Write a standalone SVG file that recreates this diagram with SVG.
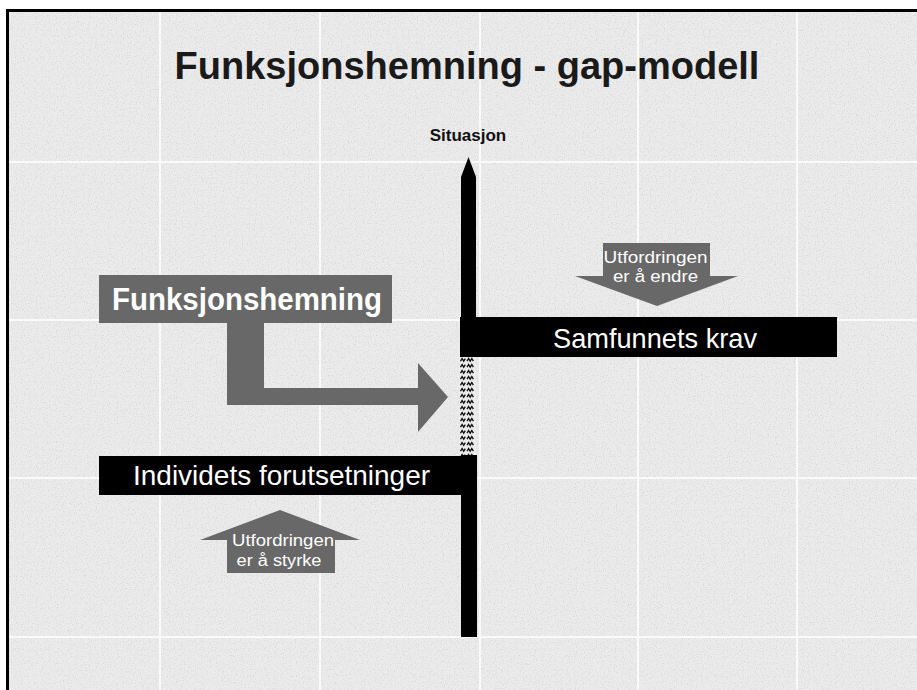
<svg xmlns="http://www.w3.org/2000/svg" width="917" height="690" viewBox="0 0 917 690">
  <defs>
    <filter id="noise" x="0" y="0" width="100%" height="100%">
      <feTurbulence type="fractalNoise" baseFrequency="0.85" numOctaves="2" seed="3" result="t"/>
      <feColorMatrix type="matrix" values="0 0 0 0 0.5  0 0 0 0 0.5  0 0 0 0 0.5  -1.2 0 0 0 0.6" in="t"/>
    </filter>
    <pattern id="gap" x="460" y="357" width="16" height="6" patternUnits="userSpaceOnUse">
      <rect width="16" height="6" fill="#ececec"/>
      <path d="M0.5,4.2 l1.6,-2.6 l1.6,2.6 l1.6,-2.6 M7,4.2 l1.6,-2.6 l1.6,2.6 l1.6,-2.6 l1.6,2.6" stroke="#111" stroke-width="1.3" fill="none"/>
    </pattern>
    <style>
      .sans { font-family: "Liberation Sans", Arial, "DejaVu Sans", sans-serif; }
      .title { font-size: 38px; font-weight: bold; fill: #1a1a1a; }
      .lbl { font-size: 17px; font-weight: bold; fill: #111; }
      .bar { fill: #000; }
      .bartext { font-size: 28px; fill: #fff; }
      .grey { fill: #686868; }
      .small { font-size: 16px; fill: #fff; }
      .grid { stroke: #fcfcfc; stroke-width: 2; opacity: 0.9; }
    </style>
  </defs>

  <!-- background -->
  <rect x="0" y="0" width="917" height="690" fill="#ffffff"/>
  <rect x="6" y="9" width="911" height="681" fill="#ebebeb"/>
  <rect x="6" y="9" width="911" height="681" filter="url(#noise)"/>
  <g id="grid">
    <line class="grid" x1="160" y1="12" x2="160" y2="690"/>
    <line class="grid" x1="320" y1="12" x2="320" y2="690"/>
    <line class="grid" x1="480" y1="12" x2="480" y2="690"/>
    <line class="grid" x1="638" y1="12" x2="638" y2="690"/>
    <line class="grid" x1="797" y1="12" x2="797" y2="690"/>
    <line class="grid" x1="9" y1="162" x2="917" y2="162"/>
    <line class="grid" x1="9" y1="320" x2="917" y2="320"/>
    <line class="grid" x1="9" y1="478" x2="917" y2="478"/>
    <line class="grid" x1="9" y1="637" x2="917" y2="637"/>
  </g>
  <g id="frame">
    <rect x="6" y="9" width="911" height="3" fill="#000"/>
    <rect x="6" y="9" width="3" height="681" fill="#000"/>
  </g>

  <g id="title">
    <text class="sans title" x="467" y="79" text-anchor="middle">Funksjonshemning - gap-modell</text>
  </g>

  <g id="situasjon">
    <text class="sans lbl" x="468" y="141" text-anchor="middle">Situasjon</text>
  </g>

  <g id="connectors">
    <path id="axis-upper" class="bar" d="M461,318 V177 L468.5,157 L476,177 V318 Z"/>
    <rect id="gap-zone" x="460" y="357" width="16" height="99" fill="url(#gap)"/>
    <rect id="axis-lower" class="bar" x="461" y="455" width="16" height="182"/>
    <path id="elbow-arrow" class="grey" d="M227,322 H264 V388 H418 V363 L448,397 L418,432 V405 H227 Z"/>
  </g>

  <g id="samfunnets-krav">
    <rect class="bar" x="460" y="317" width="377" height="40"/>
    <text class="sans bartext" x="655" y="348" text-anchor="middle" textLength="204" lengthAdjust="spacingAndGlyphs">Samfunnets krav</text>
  </g>

  <g id="individets-forutsetninger">
    <rect class="bar" x="99" y="456" width="378" height="39"/>
    <text class="sans bartext" x="281.5" y="485" text-anchor="middle" textLength="297" lengthAdjust="spacingAndGlyphs">Individets forutsetninger</text>
  </g>

  <g id="funksjonshemning">
    <rect class="grey" x="99" y="275" width="293" height="48"/>
    <text class="sans" x="247" y="310" text-anchor="middle" font-size="31" font-weight="bold" fill="#fff" textLength="270" lengthAdjust="spacingAndGlyphs">Funksjonshemning</text>
  </g>

  <g id="utfordring-endre">
    <path class="grey" d="M603,243 H710 V276 H738 L657,306 L575,276 H603 Z"/>
    <text class="sans small" x="655.5" y="263" text-anchor="middle" textLength="104" lengthAdjust="spacingAndGlyphs">Utfordringen</text>
    <text class="sans small" x="655.5" y="282" text-anchor="middle" textLength="85" lengthAdjust="spacingAndGlyphs">er å  endre</text>
  </g>

  <g id="utfordring-styrke">
    <path class="grey" d="M280,510 L360,540 H335 V573 H227 V540 H200 Z"/>
    <text class="sans small" x="283" y="546" text-anchor="middle" textLength="102" lengthAdjust="spacingAndGlyphs">Utfordringen</text>
    <text class="sans small" x="279" y="566" text-anchor="middle" textLength="85" lengthAdjust="spacingAndGlyphs">er å styrke</text>
  </g>
</svg>
